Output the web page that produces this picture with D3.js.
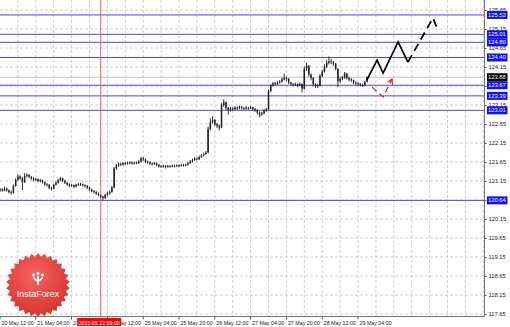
<!DOCTYPE html>
<html>
<head>
<meta charset="utf-8">
<script src="https://cdn.jsdelivr.net/npm/d3@7"></script>
<style>
body { margin: 0; background: #fff; }
svg { display: block; font-family: "Liberation Sans", Arial, sans-serif; }
</style>
</head>
<body>
<svg id="chart"></svg>
<script>
// hourly candles, 20 May 12:00 .. 29 May 08:00 (open = previous close)
const firstOpen = 120.90;
const closes = [
  120.93,120.90,120.95,120.90,120.86,120.84,121.02,121.18,121.27,121.22,
  121.12,121.28,121.31,121.26,121.22,121.18,121.20,121.15,121.17,121.12,
  121.06,121.05,120.97,120.95,121.05,121.10,121.17,121.22,121.16,121.10,
  121.06,121.03,121.04,121.00,121.05,121.07,121.06,121.04,121.02,120.98,
  120.92,120.88,120.86,120.82,120.78,120.74,120.70,120.78,120.82,120.86,
  120.98,121.48,121.56,121.60,121.58,121.62,121.60,121.62,121.64,121.61,
  121.63,121.62,121.66,121.74,121.72,121.66,121.64,121.61,121.60,121.62,
  121.58,121.54,121.53,121.55,121.52,121.54,121.53,121.55,121.54,121.56,
  121.55,121.57,121.56,121.58,121.62,121.66,121.70,121.74,121.72,121.78,
  121.82,121.86,121.90,122.52,122.70,122.76,122.64,122.60,122.56,123.15,
  123.22,123.08,123.02,123.06,123.04,123.08,123.06,123.10,123.07,123.05,
  123.08,123.06,123.09,123.04,123.02,122.95,122.90,122.93,123.00,123.04,
  123.52,123.66,123.72,123.70,123.74,123.76,123.82,123.86,123.84,123.74,
  123.70,123.68,123.70,123.66,123.70,123.58,124.10,124.18,123.95,123.86,
  123.70,123.64,123.66,123.92,124.02,124.16,124.26,124.30,124.28,124.24,
  124.10,123.78,123.84,123.88,123.98,123.86,123.82,123.80,123.74,123.72,
  123.70,123.68,123.66,123.76,123.88
];
const highs = [
  120.97,120.96,121.00,120.98,120.93,120.90,121.06,121.22,121.33,121.30,
  121.26,121.36,121.35,121.33,121.28,121.25,121.24,121.22,121.21,121.19,
  121.14,121.10,121.07,121.00,121.08,121.14,121.21,121.26,121.24,121.18,
  121.12,121.09,121.08,121.06,121.08,121.10,121.10,121.08,121.06,121.04,
  121.00,120.95,120.91,120.89,120.85,120.80,120.76,120.81,120.86,120.90,
  121.02,121.52,121.60,121.64,121.63,121.65,121.65,121.66,121.67,121.66,
  121.66,121.66,121.70,121.79,121.78,121.74,121.69,121.67,121.64,121.65,
  121.64,121.60,121.57,121.58,121.57,121.57,121.57,121.58,121.58,121.59,
  121.59,121.60,121.60,121.61,121.65,121.70,121.74,121.78,121.77,121.82,
  121.86,121.90,121.94,122.58,122.80,122.86,122.78,122.68,122.64,123.20,
  123.30,123.24,123.10,123.10,123.09,123.12,123.11,123.14,123.12,123.09,
  123.12,123.10,123.13,123.10,123.07,123.04,122.98,122.97,123.04,123.08,
  123.56,123.70,123.76,123.76,123.78,123.80,123.88,123.98,123.90,123.86,
  123.76,123.73,123.74,123.72,123.74,123.72,124.16,124.26,124.20,123.98,
  123.88,123.72,123.70,123.96,124.08,124.22,124.34,124.43,124.36,124.31,
  124.26,124.12,123.88,123.92,124.02,124.00,123.90,123.86,123.82,123.77,
  123.75,123.73,123.71,123.79,123.90
];
const lows = [
  120.86,120.87,120.88,120.87,120.82,120.79,120.82,121.00,121.15,121.18,
  120.91,121.10,121.24,121.23,121.18,121.14,121.15,121.12,121.11,121.08,
  121.03,121.01,120.93,120.90,120.93,121.03,121.08,121.14,121.12,121.07,
  121.02,120.99,121.00,120.96,120.98,121.02,121.02,121.00,120.98,120.94,
  120.89,120.85,120.82,120.79,120.75,120.70,120.64,120.68,120.75,120.79,
  120.84,120.96,121.44,121.52,121.54,121.55,121.57,121.58,121.59,121.58,
  121.59,121.59,121.60,121.64,121.68,121.62,121.60,121.57,121.56,121.57,
  121.54,121.50,121.49,121.50,121.48,121.50,121.50,121.51,121.51,121.52,
  121.52,121.53,121.53,121.54,121.56,121.60,121.64,121.68,121.69,121.70,
  121.76,121.80,121.84,121.88,122.48,122.66,122.60,122.54,122.48,122.54,
  123.10,123.02,122.90,122.98,122.99,123.01,123.02,123.04,123.03,123.01,
  123.03,123.02,123.04,123.00,122.97,122.90,122.82,122.86,122.91,122.97,
  123.02,123.48,123.64,123.66,123.68,123.71,123.74,123.80,123.78,123.70,
  123.66,123.64,123.65,123.62,123.64,123.48,123.56,124.04,123.90,123.80,
  123.64,123.60,123.60,123.64,123.88,124.00,124.12,124.22,124.22,124.18,
  124.06,123.62,123.72,123.80,123.84,123.82,123.78,123.76,123.70,123.68,
  123.66,123.64,123.62,123.64,123.74
];

const priceTicks = [125.65,125.15,124.65,124.15,123.65,123.15,122.65,122.15,121.65,121.15,120.65,120.15,119.65,119.15,118.65,118.15,117.65];
const levels = [125.52,125.01,124.80,124.40,123.67,123.39,123.01,120.64];
const lastPrice = 123.88;

const timeBars = [0,16,32,48,64,80,96,112,128,144,160];
const timeLabels = ["20 May 12:00","21 May 04:00","21 May 20:00","22 May 12:00","25 May 04:00","25 May 20:00","26 May 12:00","27 May 04:00","27 May 20:00","28 May 12:00","29 May 04:00"];
const markerBar = 45;
const markerLabel = "2015.05.22 09:00";

// forecast zig-zag
const solidBars = [164,168.5,171.2,177.9,182.3];
const solidPrices = [123.81,124.33,123.99,124.81,124.28];
const dashBars = [182.3,193.5,195.8];
const dashPrices = [124.28,125.44,125.10];
// red alternative
const arrowBars = [166.3,171.2,175.2];
const arrowPrices = [123.62,123.36,123.83];

const width = 510, height = 327;
const plotR = 484, plotB = 316;

const svg = d3.select("#chart").attr("width", width).attr("height", height);

const x = d3.scaleLinear().domain([0, 216.3]).range([0, plotR]);
const y = d3.scaleLinear().domain([125.65, 117.65]).range([10, 314]);

const boxL = x(markerBar) - 23.5, boxW = 44;

const defs = svg.append("defs");
defs.append("clipPath").attr("id", "plot")
  .append("rect").attr("width", plotR).attr("height", plotB);
// time labels are hidden under the red date box
const tclip = defs.append("clipPath").attr("id", "tclip");
tclip.append("rect").attr("x", -10).attr("y", -5).attr("width", boxL + 10).attr("height", 20);
tclip.append("rect").attr("x", boxL + boxW).attr("y", -5).attr("width", width).attr("height", 20);
defs.append("marker").attr("id", "arrow")
  .attr("viewBox", "0 0 6 6").attr("refX", 5).attr("refY", 3)
  .attr("markerWidth", 6).attr("markerHeight", 6)
  .attr("markerUnits", "userSpaceOnUse").attr("orient", "auto")
  .append("path").attr("d", "M0,0 L5,3 L0,6")
  .attr("fill", "none").attr("stroke", "#ee2222").attr("stroke-width", 1.2);
const grad = defs.append("radialGradient").attr("id", "logoGrad")
  .attr("cx", "45%").attr("cy", "35%").attr("r", "65%");
grad.append("stop").attr("offset", "0%").attr("stop-color", "#f46462");
grad.append("stop").attr("offset", "100%").attr("stop-color", "#d8332f");

const plot = svg.append("g").attr("clip-path", "url(#plot)");

// grid
plot.selectAll(".hgrid").data(priceTicks).enter().append("line")
  .attr("x1", 0).attr("x2", plotR)
  .attr("y1", d => y(d)).attr("y2", d => y(d))
  .attr("stroke", "#cfcfcf").attr("stroke-dasharray", "3,2");
plot.selectAll(".vgrid").data(d3.range(8, 217, 8)).enter().append("line")
  .attr("x1", d => x(d)).attr("x2", d => x(d))
  .attr("y1", 0).attr("y2", plotB)
  .attr("stroke", "#cfcfcf").attr("stroke-dasharray", "3,2");

// last price line
plot.append("line").attr("x1", 0).attr("x2", plotR)
  .attr("y1", y(lastPrice)).attr("y2", y(lastPrice))
  .attr("stroke", "#c4c4c4");

// levels
plot.selectAll(".lvl").data(levels).enter().append("line")
  .attr("x1", 0).attr("x2", plotR)
  .attr("y1", d => y(d)).attr("y2", d => y(d))
  .attr("stroke", "#4646ff").attr("stroke-width", 1);

// red time marker
plot.append("line").attr("x1", x(markerBar)).attr("x2", x(markerBar))
  .attr("y1", 0).attr("y2", plotB).attr("stroke", "#ff5a5a");

// candles
const candles = closes.map((c, i) => ({
  i, o: i === 0 ? firstOpen : closes[i - 1], c, h: highs[i], l: lows[i]
}));
plot.selectAll(".wick").data(candles).enter().append("line")
  .attr("x1", d => x(d.i)).attr("x2", d => x(d.i))
  .attr("y1", d => y(d.h)).attr("y2", d => y(d.l))
  .attr("stroke", "#1c1c1c").attr("stroke-width", 0.9);
plot.selectAll(".body").data(candles).enter().append("rect")
  .attr("x", d => x(d.i) - 0.75).attr("width", 1.5)
  .attr("y", d => y(Math.max(d.o, d.c)))
  .attr("height", d => Math.max(0.8, Math.abs(y(d.o) - y(d.c))))
  .attr("fill", "#222");

// forecast
const line = d3.line().x(d => x(d[0])).y(d => y(d[1]));
plot.append("path").datum(d3.zip(solidBars, solidPrices))
  .attr("d", line).attr("fill", "none").attr("stroke", "#000")
  .attr("stroke-width", 1.7).attr("stroke-linejoin", "miter");
plot.append("path").datum(d3.zip(dashBars, dashPrices))
  .attr("d", line).attr("fill", "none").attr("stroke", "#000")
  .attr("stroke-width", 1.7).attr("stroke-dasharray", "8,5");
plot.append("path").datum(d3.zip(arrowBars, arrowPrices))
  .attr("d", line).attr("fill", "none").attr("stroke", "#ee2222")
  .attr("stroke-width", 1.3).attr("stroke-dasharray", "6,4")
  .attr("marker-end", "url(#arrow)");

// borders
svg.append("line").attr("x1", plotR + 0.5).attr("x2", plotR + 0.5)
  .attr("y1", 0).attr("y2", plotB + 0.5).attr("stroke", "#777");
svg.append("line").attr("x1", 0).attr("x2", plotR + 0.5)
  .attr("y1", plotB + 0.5).attr("y2", plotB + 0.5).attr("stroke", "#777");

// logo
const teeth = 30;
const star = d3.range(teeth * 2 + 1).map(k => [k * Math.PI / teeth, k % 2 ? 28.5 : 32]);
const logo = svg.append("g").attr("transform", "translate(38,285)");
logo.append("path").attr("d", d3.lineRadial().curve(d3.curveLinearClosed)(star))
  .attr("fill", "url(#logoGrad)");
logo.append("text").attr("y", 11.5).attr("text-anchor", "middle")
  .attr("fill", "#fff").attr("font-size", 9).text("InstaForex");
const icon = logo.append("g").attr("fill", "#fff").attr("stroke", "#fff");
icon.append("circle").attr("cx", -4.5).attr("cy", -10).attr("r", 1.2);
icon.append("circle").attr("cx", 0).attr("cy", -11.5).attr("r", 1.2);
icon.append("circle").attr("cx", 4.5).attr("cy", -10).attr("r", 1.2);
icon.append("path").attr("d", "M-4.5,-7.5 Q0,-1 4.5,-7.5").attr("fill", "none").attr("stroke-width", 1.4);
icon.append("line").attr("x1", 0).attr("x2", 0).attr("y1", -9).attr("y2", 0).attr("stroke-width", 1.8);

// price axis
const yAxis = svg.append("g").attr("transform", `translate(${plotR + 0.5},0)`)
  .call(d3.axisRight(y).tickValues(priceTicks).tickSize(2).tickPadding(2).tickFormat(d3.format(".2f")));
yAxis.select(".domain").remove();
yAxis.selectAll("line").attr("stroke", "#555");
yAxis.selectAll("text").attr("font-size", 5.8).attr("fill", "#222").attr("font-family", "Liberation Sans, Arial");

const tags = levels.map(v => ({ v, fill: "#1010ff" })).concat([{ v: lastPrice, fill: "#000" }]);
const tag = svg.selectAll(".tag").data(tags).enter().append("g")
  .attr("transform", d => `translate(${plotR + 3},${y(d.v)})`);
tag.append("rect").attr("x", 0).attr("y", -4).attr("width", 20.5).attr("height", 8).attr("fill", d => d.fill);
tag.append("text").attr("x", 1).attr("dy", "0.34em").attr("font-size", 5.8)
  .attr("fill", "#fff").text(d => d3.format(".2f")(d.v));

// time axis
const xAxis = svg.append("g").attr("transform", `translate(0,${plotB + 0.5})`);
xAxis.selectAll(".tk").data(timeBars).enter().append("line")
  .attr("x1", d => x(d)).attr("x2", d => x(d)).attr("y1", 0).attr("y2", 3)
  .attr("stroke", "#555");
xAxis.append("g").attr("clip-path", "url(#tclip)")
  .selectAll(".tl").data(timeBars).enter().append("text")
  .attr("x", d => x(d) + 1.5).attr("y", 8).attr("font-size", 5.3).attr("fill", "#222")
  .text((d, i) => timeLabels[i]);
xAxis.append("rect").attr("x", boxL).attr("y", 1.5).attr("width", boxW).attr("height", 8)
  .attr("fill", "#ff0000");
xAxis.append("text").attr("x", boxL + boxW / 2).attr("y", 8).attr("text-anchor", "middle")
  .attr("font-size", 5.3).attr("fill", "#fff").text(markerLabel);
</script>
</body>
</html>
